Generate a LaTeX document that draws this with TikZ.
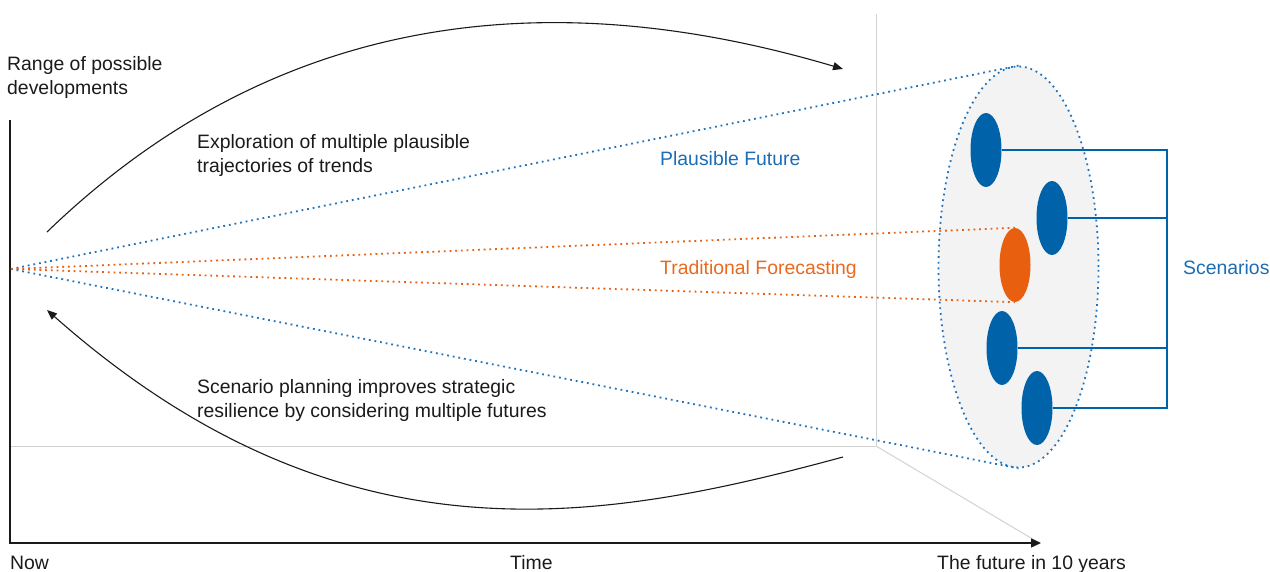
\documentclass[tikz,border=0pt]{standalone}
\usepackage{fontspec}
\setmainfont{Liberation Sans}
\usetikzlibrary{arrows.meta,shapes.geometric,calc}
\definecolor{dotblue}{HTML}{1F72BC}
\definecolor{scblue}{HTML}{0062A8}
\definecolor{fcorange}{HTML}{E8600F}
\definecolor{txtblue}{HTML}{1A6DB5}
\definecolor{txtorange}{HTML}{E8691F}
\definecolor{guidegray}{HTML}{D2D2D2}
\definecolor{conefill}{HTML}{F3F3F3}
\definecolor{inkblack}{HTML}{1A1A1A}
\begin{document}
\begin{tikzpicture}[x=1pt,y=-1pt,
  lbl/.style={font=\fontsize{19.4}{24}\selectfont, inner sep=0pt, align=left, text=inkblack},
  dotline/.style={line width=1.8pt, dash pattern=on 1.8pt off 3.9pt},
  scen/.style={ellipse, fill=scblue, minimum width=31pt, minimum height=74pt, inner sep=0pt},
  guide/.style={guidegray, line width=1pt},
  axisline/.style={draw=inkblack, line width=1.3pt},
  flow/.style={inkblack, line width=1.1pt, -{Triangle[length=10pt,width=8pt]}},
  brk/.style={scblue, line width=1.2pt}]
\useasboundingbox (0,0) rectangle (1270,572);
% guide lines
\coordinate (gtop) at (876,14);
\coordinate (gcorner) at (876,446);
\coordinate (gleft) at (10,446);
\coordinate (gdiag) at (1036,541);
\draw[guide] (gtop) -- (gcorner) -- (gleft);
\draw[guide] (gcorner) -- (gdiag);
% axes
\coordinate (ytop) at (10,120);
\coordinate (corner) at (10,543);
\coordinate (axend) at (1041,543);
\draw[axisline, -{Triangle[length=10pt,width=9pt]}] (ytop) -- (corner) -- (axend);
% cone of plausible futures
\node[ellipse, draw=dotblue, fill=conefill, dotline, minimum width=160pt, minimum height=401pt, inner sep=0pt] (cone) at (1018.5,267) {};
\coordinate (now) at (11,269);
\node[scen, fill=fcorange] (fc) at (1015,265) {};
\draw[dotline, dotblue] (now) -- (cone.north);
\draw[dotline, dotblue] (now) -- (cone.south);
\draw[dotline, fcorange] (now) -- (fc.north);
\draw[dotline, fcorange] (now) -- (fc.south);
% scenarios
\node[scen] (s1) at (986,150) {};
\node[scen] (s2) at (1052,218) {};
\node[scen] (s3) at (1002,348) {};
\node[scen] (s4) at (1037,408) {};
\coordinate (bt) at (1167,150);
\coordinate (bb) at (1167,408);
\draw[brk] (s1.east) -- (bt) -- (bb) -- (s4.east);
\draw[brk] (s2.east) -- (s2.east -| bt);
\draw[brk] (s3.east) -- (s3.east -| bt);
% curved arrows
\coordinate (a1s) at (47,232);
\coordinate (a1e) at (843,69);
\draw[flow] (a1s) .. controls (310,-22) and (610,0) .. (a1e);
\coordinate (a2s) at (843,457);
\coordinate (a2e) at (47,310);
\draw[flow] (a2s) .. controls (603,522) and (342,571) .. (a2e);
% labels
\node[lbl, anchor=north west] (range) at (7,56.6) {Range of possible\\developments};
\node[lbl, anchor=north west] (explore) at (197,134.2) {Exploration of multiple plausible\\trajectories of trends};
\node[lbl, anchor=north west] (planning) at (197,379.2) {Scenario planning improves strategic\\resilience by considering multiple futures};
\node[lbl, anchor=base west, text=txtblue] (plaus) at (660,166) {Plausible Future};
\node[lbl, anchor=base west, text=txtorange] (trad) at (660,275) {Traditional Forecasting};
\node[lbl, anchor=base west, text=txtblue] (scl) at (1183,275) {Scenarios};
\node[lbl, anchor=base west] (nowl) at (10,569) {Now};
\node[lbl, anchor=base west] (timel) at (510,569) {Time};
\node[lbl, anchor=base west] (futl) at (937,569) {The future in 10 years};
\end{tikzpicture}
\end{document}
